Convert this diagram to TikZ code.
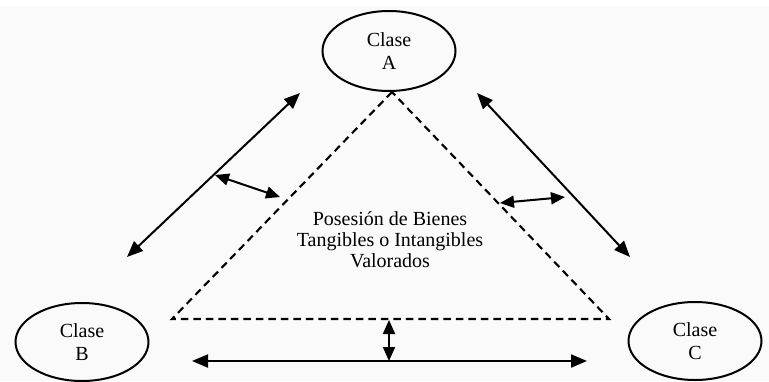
\documentclass[tikz,border=0pt]{standalone}
\usepackage{fontspec}
\setmainfont{Liberation Serif}
\usetikzlibrary{arrows.meta,shapes.geometric}
\begin{document}
\begin{tikzpicture}[x=1pt,y=-1pt,
  cls/.style={draw, line width=2pt, ellipse, minimum width=133pt, minimum height=80pt, inner sep=0pt, align=center, font=\fontsize{20}{23}\selectfont},
  dashtri/.style={dash pattern=on 7.5pt off 5pt, line width=2.1pt},
  dbl/.style={{Triangle[length=16pt,width=13pt]}-{Triangle[length=16pt,width=13pt]}, line width=2pt},
  sdbl/.style={{Triangle[length=14pt,width=12pt]}-{Triangle[length=14pt,width=12pt]}, line width=2pt},
  lbl/.style={align=center, font=\fontsize{20}{21}\selectfont, inner sep=0pt}]
\useasboundingbox (0,0) rectangle (769,381);
\fill[black!2] (0,0) rectangle (769,381);
\fill[white] (0,0) rectangle (769,6);
% class nodes
\node[cls] (A) at (389,51) {Clase\\A};
\node[cls, minimum height=78pt] (B) at (82,342) {Clase\\B};
\node[cls, minimum height=78pt] (C) at (695,341) {Clase\\C};
% triangle
\coordinate (T) at (392,92);
\coordinate (L) at (172,319);
\coordinate (R) at (609,319);
\draw[dashtri] (T) -- (L) -- (R) -- cycle;
% label
\node[lbl] (txt) at (390,240) {Posesión de Bienes\\Tangibles o Intangibles\\Valorados};
% long arrows
\coordinate (la1) at (127,257);
\coordinate (la2) at (300,93);
\draw[dbl] (la1) -- (la2);
\coordinate (ra1) at (477,93);
\coordinate (ra2) at (630,257);
\draw[dbl] (ra1) -- (ra2);
\coordinate (ba1) at (192,361);
\coordinate (ba2) at (587,361);
\draw[dbl] (ba1) -- (ba2);
% short arrows
\coordinate (ls1) at (215,175);
\coordinate (ls2) at (280,197);
\draw[sdbl] (ls1) -- (ls2);
\coordinate (rs1) at (500,203);
\coordinate (rs2) at (565,197);
\draw[sdbl] (rs1) -- (rs2);
\coordinate (bs1) at (389,320);
\coordinate (bs2) at (389,361);
\draw[sdbl] (bs1) -- (bs2);
\end{tikzpicture}
\end{document}
